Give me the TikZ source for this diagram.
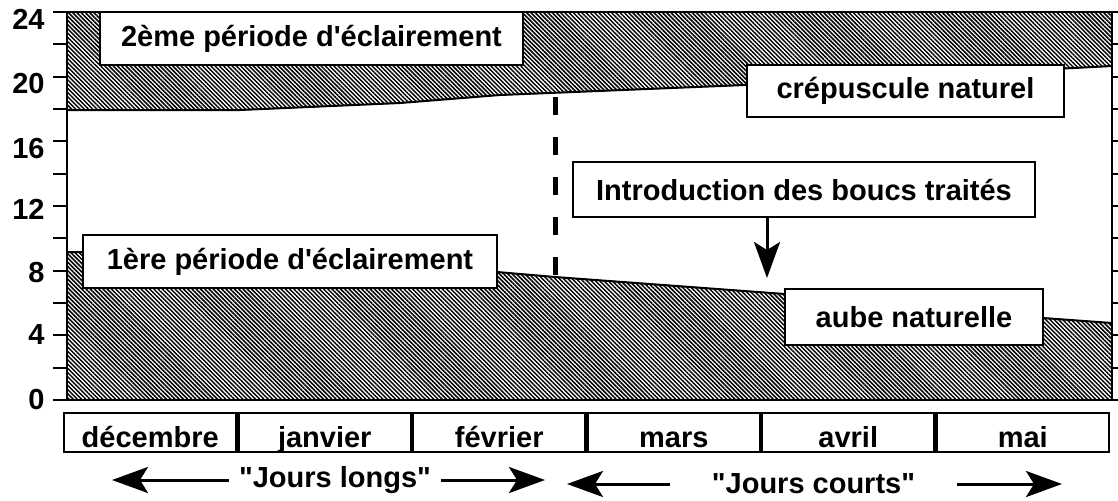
\documentclass[tikz,border=0pt]{standalone}
\usepackage{fontspec}
\setmainfont{Liberation Sans}[Ligatures=TeXOff]
\usepackage{tikz}
\usetikzlibrary{arrows.meta,positioning,patterns.meta}
\tikzset{
  hatch/.style={pattern={Lines[angle=-45,distance=1.5pt,line width=0.75pt]}},
  edge/.style={line width=1pt},
  tag/.style={draw, fill=white, line width=1.2pt, inner sep=0pt, font=\fontsize{14.5}{17}\selectfont\bfseries},
  month/.style={tag, minimum width=86.05pt, minimum height=19.5pt, text height=14.5pt, text depth=0pt},
  num/.style={inner sep=0pt, anchor=east, font=\fontsize{14.5}{17}\selectfont\bfseries},
  note/.style={inner ysep=0pt, font=\fontsize{14.5}{17}\selectfont\bfseries},
  arr/.style={-{Stealth[length=18pt,width=13pt,inset=4pt]}, line width=1.5pt},
  tick/.style={line width=1pt}
}

\begin{document}
\begin{tikzpicture}[x=0.5pt, y=-0.5pt]
  \useasboundingbox (0,0) rectangle (1118,500);
  \draw[hatch] (67,12) -- (1112,12) -- (1112,66) -- (745,85) -- (500,95) -- (400,103) -- (240,110) -- (67,110) -- cycle;
  \draw[hatch] (67,400) -- (67,252) -- (240,254) -- (497,272) -- (555,277) -- (785,294) -- (1043,318) -- (1112,323) -- (1112,400) -- cycle;
  \draw[edge] (67,110) -- (240,110) -- (400,103) -- (500,95) -- (745,85) -- (1112,66);
  \draw[edge] (67,252) -- (240,254) -- (497,272) -- (555,277) -- (785,294) -- (1043,318) -- (1112,323);
  \draw[line width=1.4pt] (67,12) rectangle (1112,400);
  \foreach \h in {0,2,...,24} {
    \draw[tick] (53,{400-16.1667*\h}) -- (67,{400-16.1667*\h});
    \draw[tick] (1112,{400-16.1667*\h}) -- (1118,{400-16.1667*\h});
  }
  \foreach \h/\ly in {24/19,20/84,16/149,12/209,8/273,4/335,0/400}
    \node[num] (h\h) at (45,\ly) {\h};

  \node[tag, minimum width=211.5pt, minimum height=26.5pt] (second) at (311.5,38.5) {2ème période d'éclairement};
  \node[tag, minimum width=158.5pt, minimum height=26pt] (dusk) at (905.5,91) {crépuscule naturel};
  \node[tag, minimum width=207pt, minimum height=26.5pt] (first) at (290,261.5) {1ère période d'éclairement};
  \node[tag, minimum width=129pt, minimum height=28pt] (dawn) at (914,317) {aube naturelle};
  \node[tag, minimum width=231pt, minimum height=27.5pt] (intro) at (804,189.5) {Introduction des boucs traités};

  \coordinate (dtop) at (555,97);
  \coordinate (dbot) at (555,277);
  \draw[line width=2.5pt, dash pattern=on 9pt off 11pt] (dtop) -- (dbot);
  \coordinate (tip) at (767,278);
  \draw[arr] (intro.south -| tip) -- (tip);

  \node[month] (dec) at (150.25,432.5) {décembre};
  \node[month, right=0pt of dec] (jan) {janvier};
  \node[month, right=0pt of jan] (feb) {février};
  \node[month, right=0pt of feb] (mar) {mars};
  \node[month, right=0pt of mar] (apr) {avril};
  \node[month, right=0pt of apr] (may) {mai};

  \node[note, inner xsep=5pt] (long) at (335,480) {"Jours longs"};
  \node[note, inner xsep=21pt] (short) at (813.5,484) {"Jours courts"};
  \coordinate (ltip) at (112,480);
  \coordinate (rtip) at (545,480);
  \coordinate (stip) at (567,484);
  \coordinate (etip) at (1062,484);
  \draw[arr] (long.west) -- (ltip);
  \draw[arr] (long.east) -- (rtip);
  \draw[arr] (short.west) -- (stip);
  \draw[arr] (short.east) -- (etip);
\end{tikzpicture}
\end{document}
